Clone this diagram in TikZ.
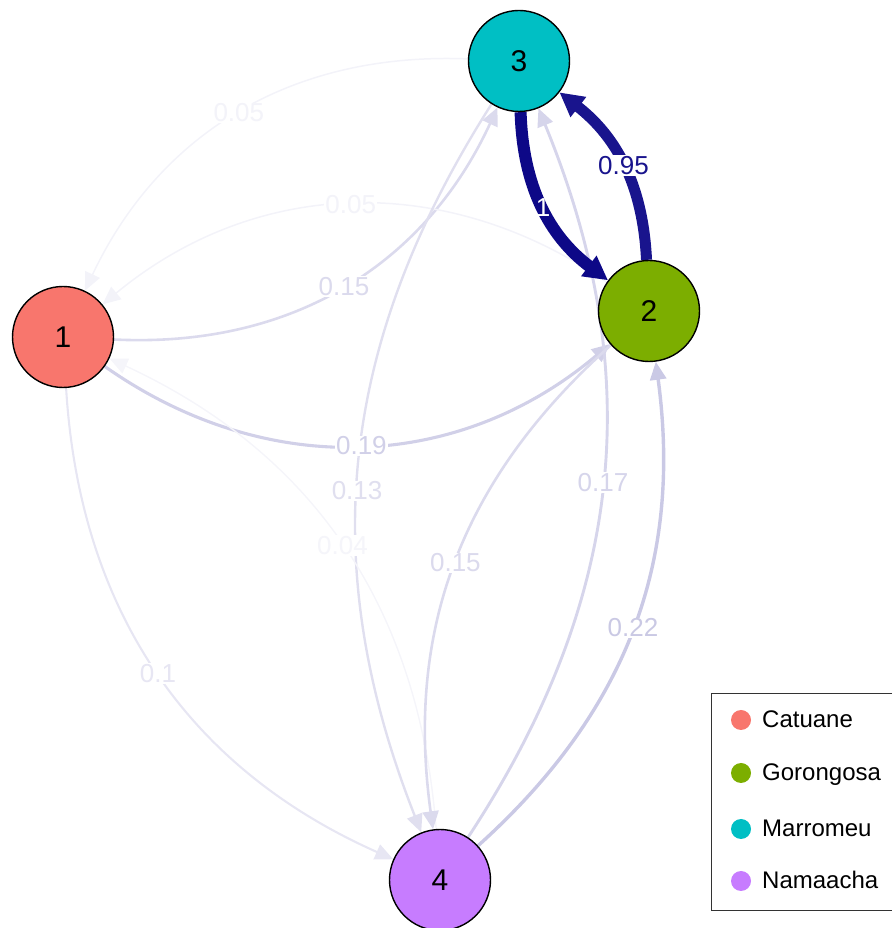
\documentclass[tikz,border=0pt]{standalone}
\usepackage{fontspec}
\setmainfont{Liberation Sans}
\usetikzlibrary{arrows.meta}
\definecolor{ecol}{RGB}{13,8,135}
\definecolor{c1}{HTML}{F8766D}
\definecolor{c2}{HTML}{7CAE00}
\definecolor{c3}{HTML}{00BFC4}
\definecolor{c4}{HTML}{C77CFF}
\pgfdeclarelayer{edges}
\pgfsetlayers{edges,main}
\begin{document}
\begin{tikzpicture}[x=1pt,y=1pt,
  vert/.style={circle,draw=black,line width=1.4pt,minimum size=101pt,inner sep=0pt,font=\fontsize{30}{34}\selectfont},
  edge/.style={-{Triangle[length=18pt,width=16pt]}},
  bigedge/.style={-{Triangle[length=24pt,width=24pt]}},
  lab/.style={fill=white,inner sep=1pt,font=\fontsize{26}{30}\selectfont},
  legtext/.style={anchor=base west,inner sep=0pt,font=\fontsize{24}{28}\selectfont},
  legdot/.style={circle,inner sep=0pt,minimum size=20pt}
]
\useasboundingbox (0,0) rectangle (892,928);
\node[vert,fill=c1] (n1) at (63,591) {1};
\node[vert,fill=c2] (n2) at (649,617) {2};
\node[vert,fill=c3] (n3) at (519,867) {3};
\node[vert,fill=c4] (n4) at (440,48) {4};

\begin{pgfonlayer}{edges}
\draw[edge,line width=1.5pt,draw=ecol!5!white] (n3) to[bend right=33.5] coordinate[midway] (m31) (n1);
\draw[edge,line width=2.6pt,draw=ecol!15!white] (n1) to[bend right=34] coordinate[midway] (m13) (n3);
\draw[edge,line width=1.5pt,draw=ecol!5!white] (n2) to[bend right=37] coordinate[midway] (m21) (n1);
\draw[edge,line width=3.1pt,draw=ecol!19!white] (n1) to[bend right=37.7] coordinate[midway] (m12) (n2);
\draw[edge,line width=2.4pt,draw=ecol!13!white] (n3) to[bend right=27] coordinate[pos=0.545] (m34) (n4);
\draw[edge,line width=2.9pt,draw=ecol!17!white] (n4) to[bend right=27.8] coordinate[midway] (m43) (n3);
\draw[edge,line width=1.4pt,draw=ecol!4!white] (n4) to[bend right=30.4] coordinate[midway] (m41) (n1);
\draw[edge,line width=2.1pt,draw=ecol!10!white] (n1) to[bend right=31.3] coordinate[midway] (m14) (n4);
\draw[edge,line width=2.6pt,draw=ecol!15!white] (n2) to[bend right=28] coordinate[midway] (m24) (n4);
\draw[edge,line width=3.4pt,draw=ecol!22!white] (n4) to[bend right=27.8] coordinate[midway] (m42) (n2);
\draw[bigedge,line width=12pt,draw=ecol] (n3) to[bend right=25.7] coordinate[midway] (m32) (n2);
\draw[bigedge,line width=11pt,draw=ecol!95!white] (n2) to[bend right=24.7] coordinate[midway] (m23) (n3);

\node[lab,text=ecol!5!white] (l31) at (m31) {0.05};
\node[lab,text=ecol!15!white] (l13) at (m13) {0.15};
\node[lab,text=ecol!5!white] (l21) at (m21) {0.05};
\node[lab,text=ecol!19!white] (l12) at (m12) {0.19};
\node[lab,text=ecol!13!white] (l34) at (m34) {0.13};
\node[lab,text=ecol!17!white] (l43) at (m43) {0.17};
\node[lab,text=ecol!4!white] (l41) at (m41) {0.04};
\node[lab,text=ecol!10!white] (l14) at (m14) {0.1};
\node[lab,text=ecol!15!white] (l24) at (m24) {0.15};
\node[lab,text=ecol!22!white] (l42) at (m42) {0.22};
\node[lab,fill=none,text=white] (l32) at (m32) {1};
\node[lab,text=ecol!95!white] (l23) at (m23) {0.95};
\end{pgfonlayer}

\draw[line width=1pt,draw=black!80] (892,234) -- (711,234) -- (711,17) -- (892,17);
\node[legdot,fill=c1] (d1) at (741,208) {};
\node[legdot,fill=c2] (d2) at (741,155) {};
\node[legdot,fill=c3] (d3) at (741,99) {};
\node[legdot,fill=c4] (d4) at (741,47) {};
\node[legtext] (t1) at (762,200) {Catuane};
\node[legtext] (t2) at (762,147) {Gorongosa};
\node[legtext] (t3) at (762,91) {Marromeu};
\node[legtext] (t4) at (762,39) {Namaacha};
\end{tikzpicture}
\end{document}
